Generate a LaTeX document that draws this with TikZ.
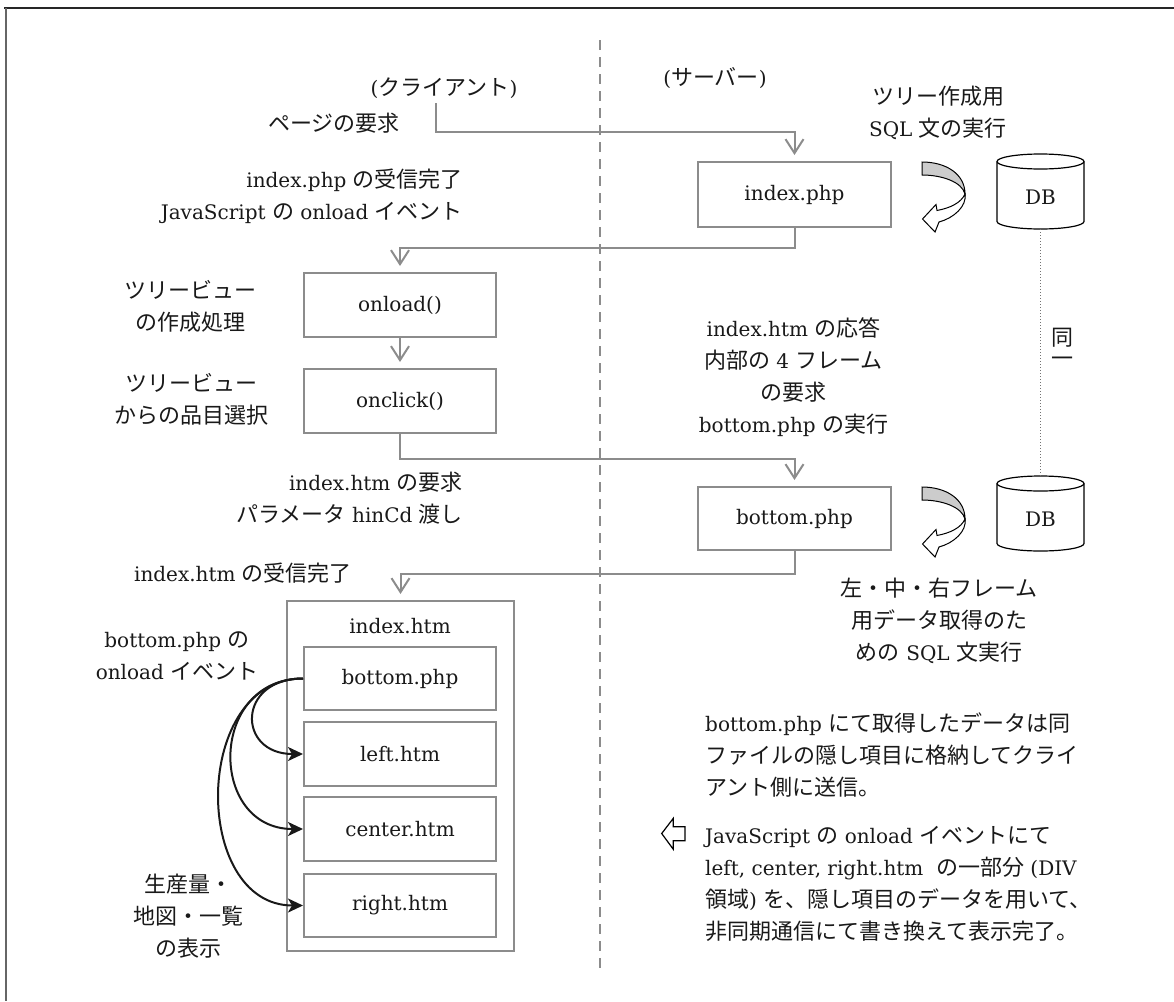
\documentclass[tikz,border=0pt]{standalone}
\usepackage{fontspec}
\setmainfont{DejaVu Serif}
\newfontfamily\cjkfont[Scale=1.1]{Noto Sans CJK JP}
\usetikzlibrary{arrows.meta}
\XeTeXinterchartokenstate=1
\newXeTeXintercharclass\CJKcls
\newcount\cjkc
\def\setcjkrange#1#2{\cjkc=#1\relax\loop\XeTeXcharclass\cjkc=\CJKcls\relax\ifnum\cjkc<#2\relax\advance\cjkc by 1\repeat}
\setcjkrange{"3000}{"30FF}
\setcjkrange{"4E00}{"9FFF}
\setcjkrange{"FF00}{"FFEF}
\XeTeXinterchartoks 0 \CJKcls = {\begingroup\cjkfont}
\XeTeXinterchartoks 4095 \CJKcls = {\begingroup\cjkfont}
\XeTeXinterchartoks \CJKcls 0 = {\endgroup}
\XeTeXinterchartoks \CJKcls 4095 = {\endgroup}
\begin{document}
\begin{tikzpicture}[x=1pt,y=-1pt,
  every node/.style={font=\fontsize{20}{32}\selectfont, text=black!90, inner sep=0pt},
  box/.style={draw=black!45, line width=2pt, minimum width=192pt, minimum height=64pt, fill=white},
  conn/.style={draw=black!45, line width=2pt, -{Straight Barb[length=14pt,width=18pt]}, shorten >=6pt},
  curvearrow/.style={draw=black!90, line width=2pt, -{Stealth[length=15pt,width=14pt,inset=4pt]}},
  dbline/.style={draw=black, line width=1.2pt, fill=white},
  ribbon/.style={draw=black, line width=1pt}]
\useasboundingbox (0,0) rectangle (1174,1001);
% frame
\draw[black!85, line width=2pt] (4,8) -- (1174,8);
\draw[black!60, line width=2pt] (6,8) -- (6,1001);
% divider
\draw[black!45, line width=1.5pt, dash pattern=on 10pt off 7pt] (600,40) -- (600,973);

% headings
\node (cl) at (444,88) {(クライアント)};
\node (sv) at (715,78) {(サーバー)};

% top flow
\node (preq) at (334,123) {ページの要求};
\coordinate (req) at (436,103);
\node[box, minimum width=193pt, minimum height=65pt] (idx) at (794.5,194.5) {index.php};
\node[align=center] (sql1) at (938,112.5) {ツリー作成用\\SQL 文の実行};
\node[align=right, anchor=east] (recv1) at (463,196.5) {index.php の受信完了\\JavaScript の onload イベント};
\node[box] (onl) at (400,305) {onload()};
\node[box] (onc) at (400,401) {onclick()};
\node[align=center] (tv1) at (190,306) {ツリービュー\\の作成処理};
\node[align=center] (tv2) at (191,399) {ツリービュー\\からの品目選択};
\node[align=right, anchor=east] (reqh) at (463,498.5) {index.htm の要求\\パラメータ hinCd 渡し};
\node[align=center] (resp) at (793.5,377.5) {index.htm の応答\\内部の 4 フレーム\\の要求\\bottom.php の実行};
\node[box, minimum width=193pt, minimum height=63pt] (bp) at (794.5,518.5) {bottom.php};
\node (recv2) at (243,573) {index.htm の受信完了};

% index.htm container
\node[box, minimum width=227pt, minimum height=350pt] (ih) at (400.5,776) {};
\node (ihl) at (400,626) {index.htm};
\node[box, minimum height=63pt] (ibp) at (400,678.5) {bottom.php};
\node[box] (lh) at (400,754) {left.htm};
\node[box] (ch) at (400,829) {center.htm};
\node[box, minimum height=63pt] (rh) at (400,905.5) {right.htm};
\node[align=center] (ev) at (177,656) {bottom.php の\\onload イベント};
\node[align=center] (disp) at (188,916.5) {生産量・\\地図・一覧\\の表示};

% right side texts
\node[align=center] (sql2) at (939,621) {左・中・右フレーム\\用データ取得のた\\めの SQL 文実行};
\node[align=left, anchor=west] (p1) at (705,755) {bottom.php にて取得したデータは同\\ファイルの隠し項目に格納してクライ\\アント側に送信。};
\node[align=left, anchor=west] (p2) at (705,883.5) {JavaScript の onload イベントにて\\left, center, right.htm\ \ の一部分 (DIV\\領域) を、隠し項目のデータを用いて、\\非同期通信にて書き換えて表示完了。};
\node[align=center] (same) at (1062,347.5) {同\\[-11pt]一};

% DB cylinders
\node[minimum width=87pt, minimum height=75pt] (db1) at (1040.5,191.5) {};
\node[minimum width=87pt, minimum height=75pt] (db2) at (1040.5,513.5) {};
\filldraw[dbline] (997,161.5) -- (997,221.5) arc[start angle=180,end angle=360,x radius=43.5pt,y radius=7.5pt] -- (1084,161.5) arc[start angle=0,end angle=180,x radius=43.5pt,y radius=7.5pt] -- cycle;
\draw[dbline, fill=none] (997,161.5) arc[start angle=180,end angle=360,x radius=43.5pt,y radius=7.5pt];
\filldraw[dbline] (997,483.5) -- (997,543.5) arc[start angle=180,end angle=360,x radius=43.5pt,y radius=7.5pt] -- (1084,483.5) arc[start angle=0,end angle=180,x radius=43.5pt,y radius=7.5pt] -- cycle;
\draw[dbline, fill=none] (997,483.5) arc[start angle=180,end angle=360,x radius=43.5pt,y radius=7.5pt];
\node (db1t) at (1040.5,197) {DB};
\node (db2t) at (1040.5,519) {DB};
\draw[black!55, line width=1pt, dash pattern=on 1pt off 2pt] (db1.south) -- (db2.north);

% ribbons
\foreach \yy in {162,487}{
\begin{scope}[shift={(922,\yy)}]
\filldraw[ribbon, fill=black!20] (0,0) .. controls (24,0) and (43,12) .. (43,32) .. controls (40,20) and (20,13) .. (0,13) -- cycle;
\filldraw[ribbon, fill=white] (43,32) .. controls (45,44) and (32,56) .. (17,60) -- (13,70) -- (0.5,57) -- (14,42.5) -- (15,48.5) .. controls (28,46) and (39,41) .. (43,32) -- cycle;
\end{scope}}

% hollow arrow
\draw[black, line width=1.2pt, line join=miter] (661.7,833.5) -- (673.3,818.3) -- (673.3,826.7) -- (685,826.7) -- (685,840.7) -- (673.3,840.7) -- (673.3,849.3) -- cycle;

% connectors
\draw[conn] (req) -- (req |- 0,132) -- (idx.north |- 0,132) -- (idx.north);
\draw[conn] (idx.south) -- (idx.south |- 0,248) -- (onl.north |- 0,248) -- (onl.north);
\draw[conn] (onl.south) -- (onc.north);
\draw[conn] (onc.south) -- (onc.south |- 0,459) -- (bp.north |- 0,459) -- (bp.north);
\draw[conn] (bp.south) -- (bp.south |- 0,574) -- (ih.north |- 0,574) -- (ih.north);

% black curved arrows
\draw[curvearrow] (ibp.west) to[out=180,in=180,looseness=2.25] (lh.west);
\draw[curvearrow] (ibp.west) to[out=180,in=180,looseness=1.62] (ch.west);
\draw[curvearrow] (ibp.west) to[out=180,in=180,looseness=1.26] (rh.west);
\end{tikzpicture}
\end{document}
